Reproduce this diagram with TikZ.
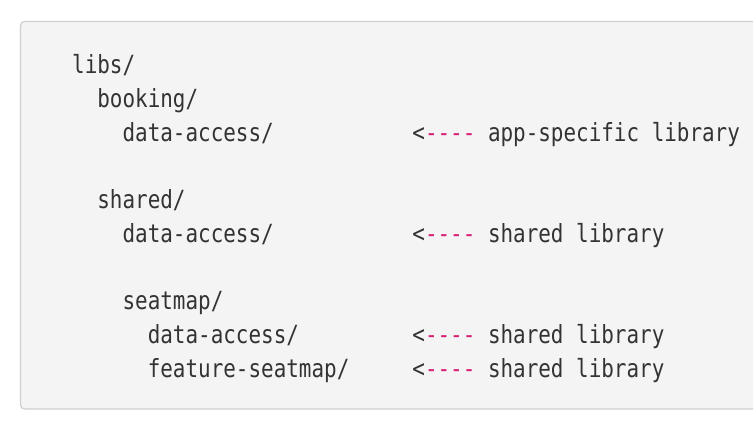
\documentclass[tikz,border=0pt]{standalone}
\usepackage{fontspec}
\setmonofont[FakeStretch=0.837]{DejaVu Sans Mono}
\definecolor{codebg}{HTML}{F4F4F4}
\definecolor{codeframe}{HTML}{CFCFCF}
\definecolor{codetext}{HTML}{333333}
\definecolor{dashpink}{HTML}{D81E72}
\tikzset{
  codeline/.style={anchor=base west, inner sep=0pt, text=codetext,
    font=\ttfamily\fontsize{25}{25}\selectfont},
  pointer/.style={codeline},
}
\newcommand{\arrowmark}{<\textcolor{dashpink}{----}}
\begin{document}
\begin{tikzpicture}[x=1pt,y=-1pt]
          \path[use as bounding box, clip] (0,0) rectangle (753,428);
          %%% the code block
          \draw[codeframe, fill=codebg, line width=1.2pt, rounded corners=4pt] (20.5,21.5) rectangle (780,409);
          %%% the folder tree
          \node[codeline] (libs) at (72, 74) {libs/};
          \node[codeline] (booking) at (97.2, 107.7) {booking/};
          \node[codeline] (bookingda) at (122.4, 141.4) {data-access/};
          \node[codeline] (shared) at (97.2, 208.8) {shared/};
          \node[codeline] (sharedda) at (122.4, 242.5) {data-access/};
          \node[codeline] (seatmap) at (122.4, 309.9) {seatmap/};
          \node[codeline] (seatmapda) at (147.6, 343.6) {data-access/};
          \node[codeline] (seatmapfeat) at (147.6, 377.3) {feature-seatmap/};
          %%% the pointers, column 27
          \node[pointer] (arrowa) at (412.2, 141.4) {\arrowmark};
          \node[pointer] (arrowb) at (412.2, 242.5) {\arrowmark};
          \node[pointer] (arrowc) at (412.2, 343.6) {\arrowmark};
          \node[pointer] (arrowd) at (412.2, 377.3) {\arrowmark};
          %%% the notes, column 33
          \node[codeline] (notea) at (487.8, 141.4) {app-specific library};
          \node[codeline] (noteb) at (487.8, 242.5) {shared library};
          \node[codeline] (notec) at (487.8, 343.6) {shared library};
          \node[codeline] (noted) at (487.8, 377.3) {shared library};
\end{tikzpicture}
\end{document}
